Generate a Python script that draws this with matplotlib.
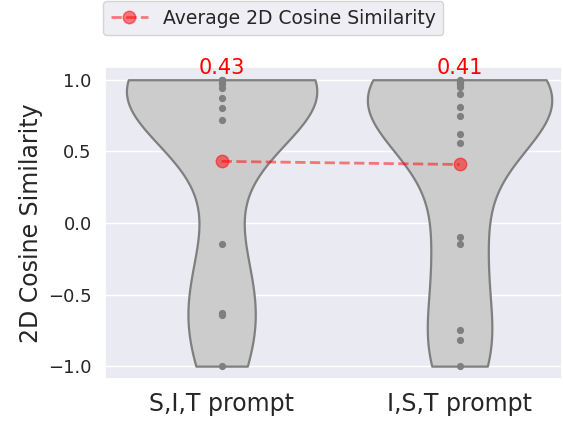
import numpy as np
import pandas as pd
import matplotlib
matplotlib.use("Agg")
import matplotlib.pyplot as plt
import seaborn as sns

categories = ["S,I,T prompt", "I,S,T prompt"]
sit_values = [1.0, 1.0, 1.0, 0.98, 0.97, 0.94, 0.87, 0.80, 0.72, -0.15, -0.63, -0.64, -1.0]
ist_values = [1.0, 0.99, 0.98, 0.97, 0.95, 0.90, 0.81, 0.75, 0.62, 0.56,
              -0.10, -0.15, -0.75, -0.82, -1.0]
mean_values = [0.43, 0.408]

sns.set_theme(style="darkgrid")
plt.rcParams['font.family'] = ['DejaVu Sans']

df = pd.DataFrame({
    "prompt": [categories[0]] * len(sit_values) + [categories[1]] * len(ist_values),
    "sim": sit_values + ist_values,
})

fig = plt.figure(figsize=(5.63, 4.23), dpi=100)
ax = fig.add_axes([0.1865, 0.104, 0.8115, 0.738])

sns.violinplot(data=df, x="prompt", y="sim", order=categories, cut=0, inner=None,
               color="#cccccc", saturation=1, linecolor="#7f7f7f", linewidth=1.6,
               bw_adjust=0.85, ax=ax)
sns.stripplot(data=df, x="prompt", y="sim", order=categories, jitter=False,
              color="#7f7f7f", size=5.2, ax=ax)

xs = np.arange(len(categories))
ax.plot(xs, mean_values, color="red", alpha=0.5, linestyle="--", linewidth=2,
        marker="o", markersize=9, label="Average 2D Cosine Similarity", zorder=5)
for x, m in zip(xs, mean_values):
    ax.text(x, 1.01, f"{m:.2f}", color="red", ha="center", va="bottom", fontsize=15)

ax.set_xlim(-0.49, 1.43)
ax.set_ylim(-1.09, 1.09)
ax.set_yticks([-1.0, -0.5, 0.0, 0.5, 1.0])
ax.set_yticklabels(["\u22121.0", "\u22120.5", "0.0", "0.5", "1.0"])
ax.tick_params(axis='y', labelsize=13)
ax.tick_params(axis='x', labelsize=17)
ax.set_xlabel("")
ax.set_ylabel("2D Cosine Similarity", fontsize=17)

fig.legend(loc="upper left", bbox_to_anchor=(103/563, 1 - 1/423), fontsize=13.5,
           frameon=True, borderaxespad=0)

fig.savefig("out.png", dpi=100)
